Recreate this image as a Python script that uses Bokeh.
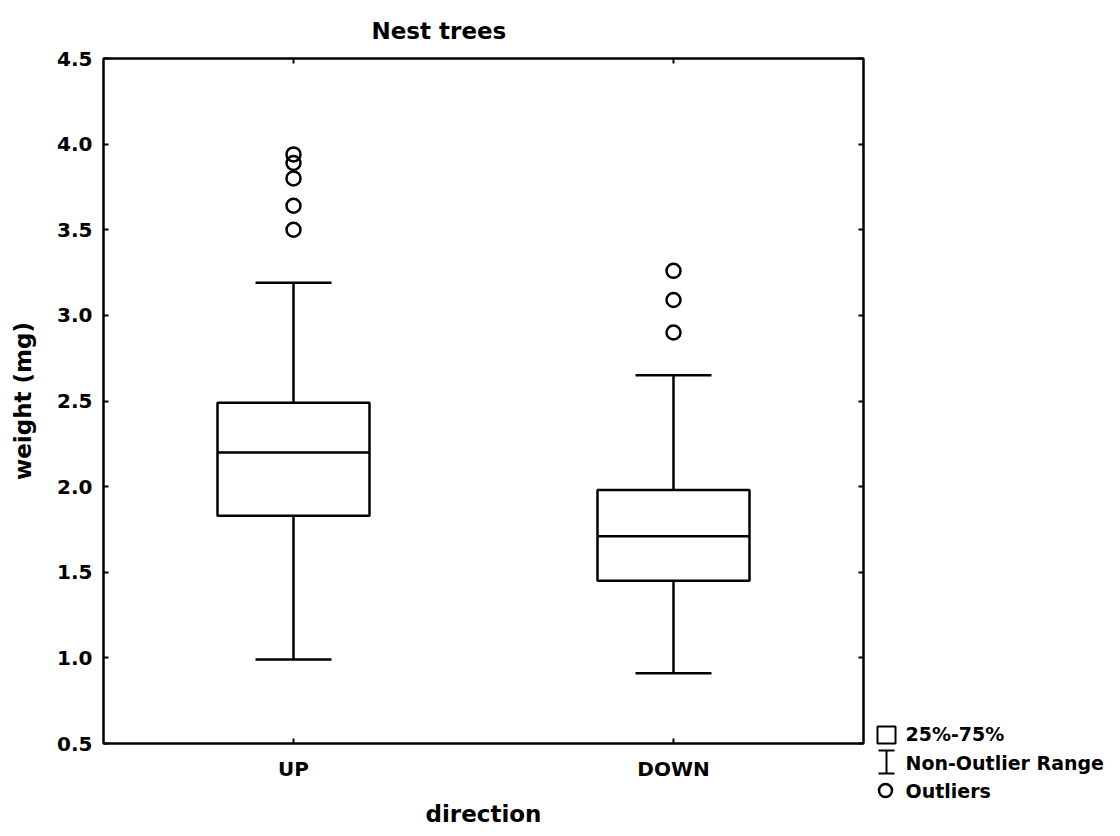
from bokeh.plotting import figure
from bokeh.models import Range1d, LinearAxis, FixedTicker, ColumnDataSource
from bokeh.layouts import row
from bokeh.embed import file_html
from bokeh.resources import INLINE
from bokeh.core.properties import value

# ---- data ----
categories = ["UP", "DOWN"]
cat_pos = [0.5, 1.5]
q1 = [1.83, 1.45]
median = [2.20, 1.71]
q3 = [2.49, 1.98]
whisker_low = [0.99, 0.91]
whisker_high = [3.19, 2.65]
outliers_up = [3.50, 3.64, 3.80, 3.89, 3.94]
outliers_down = [2.90, 3.09, 3.26]
y_ticks = [0.5, 1.0, 1.5, 2.0, 2.5, 3.0, 3.5, 4.0, 4.5]
legend_labels = ["25%-75%", "Non-Outlier Range", "Outliers"]

FONT = "DejaVu Sans"
BOX_HALF = 0.2
CAP_HALF = 0.1
LW = 2.5

p = figure(frame_width=760, frame_height=685,
           x_range=Range1d(0, 2), y_range=Range1d(0.5, 4.5),
           output_backend="svg", toolbar_location=None,
           min_border_left=103, min_border_top=58, min_border_right=4, min_border_bottom=93,
           title="Nest trees")
p.title.text_font = FONT
p.title.text_font_size = "23px"
p.title.text_font_style = "bold"
p.title.text_color = "black"
p.title.align = "left"
p.title.offset = 268
p.title.standoff = 30
p.xgrid.visible = False
p.ygrid.visible = False
p.outline_line_color = "black"
p.outline_line_width = 2
p.background_fill_color = "white"
p.border_fill_color = "white"

# axes
p.xaxis.ticker = FixedTicker(ticks=cat_pos)
p.xaxis.major_label_overrides = {cat_pos[i]: categories[i] for i in range(len(categories))}
p.yaxis.ticker = FixedTicker(ticks=y_ticks)
p.yaxis.major_label_overrides = {t: f"{t:.1f}" for t in y_ticks}
p.xaxis.axis_label = "direction"
p.yaxis.axis_label = "weight (mg)"

for ax in [p.xaxis[0], p.yaxis[0]]:
    ax.major_tick_in = 5
    ax.major_tick_out = 0
    ax.minor_tick_in = 0
    ax.minor_tick_out = 0
    ax.axis_line_width = 2
    ax.axis_line_color = "black"
    ax.major_tick_line_width = 2
    ax.major_label_text_font = FONT
    ax.major_label_text_font_style = "bold"
    ax.major_label_text_font_size = "20px"
    ax.major_label_text_color = "black"
    ax.axis_label_text_font = FONT
    ax.axis_label_text_font_style = "bold"
    ax.axis_label_text_font_size = "23px"
    ax.axis_label_text_color = "black"
p.xaxis.major_label_standoff = 13
p.xaxis.axis_label_standoff = 17
p.yaxis.major_label_standoff = 11
p.yaxis.axis_label_standoff = 18

right_ax = LinearAxis(ticker=FixedTicker(ticks=y_ticks))
right_ax.major_label_overrides = {t: "" for t in y_ticks}
top_ax = LinearAxis(ticker=FixedTicker(ticks=cat_pos))
top_ax.major_label_overrides = {t: "" for t in cat_pos}
for ax in [right_ax, top_ax]:
    ax.major_tick_in = 5
    ax.major_tick_out = 0
    ax.minor_tick_in = 0
    ax.minor_tick_out = 0
    ax.axis_line_width = 2
    ax.major_tick_line_width = 2
    ax.major_label_standoff = 0
p.add_layout(right_ax, "right")
p.add_layout(top_ax, "above")

# boxes
src = ColumnDataSource(dict(
    x=cat_pos,
    left=[c - BOX_HALF for c in cat_pos],
    right=[c + BOX_HALF for c in cat_pos],
    cl=[c - CAP_HALF for c in cat_pos],
    cr=[c + CAP_HALF for c in cat_pos],
    q1=q1, q3=q3, med=median, lo=whisker_low, hi=whisker_high,
))
p.segment(x0="x", y0="q3", x1="x", y1="hi", source=src, line_color="black", line_width=LW)
p.segment(x0="x", y0="q1", x1="x", y1="lo", source=src, line_color="black", line_width=LW)
p.segment(x0="cl", y0="hi", x1="cr", y1="hi", source=src, line_color="black", line_width=LW)
p.segment(x0="cl", y0="lo", x1="cr", y1="lo", source=src, line_color="black", line_width=LW)
p.quad(left="left", right="right", bottom="q1", top="q3", source=src,
       fill_color="white", line_color="black", line_width=LW)
p.segment(x0="left", y0="med", x1="right", y1="med", source=src, line_color="black", line_width=LW)

ox = [cat_pos[0]] * len(outliers_up) + [cat_pos[1]] * len(outliers_down)
oy = outliers_up + outliers_down
p.scatter(ox, oy, marker="circle", size=14, fill_color=None, line_color="black", line_width=2.5)

# legend panel (separate small figure to the right)
LEG_W = 253
lg = figure(width=LEG_W, height=836, x_range=Range1d(0, LEG_W), y_range=Range1d(836, 0),
            output_backend="svg", toolbar_location=None,
            x_axis_type=None, y_axis_type=None, min_border=0)
try:
    lg.frame_align = False
except Exception:
    pass
lg.outline_line_color = None
lg.xgrid.visible = False
lg.ygrid.visible = False
lg.background_fill_color = "white"
lg.border_fill_color = "white"
lg.quad(left=[10], right=[28], top=[726], bottom=[743], fill_color="white", line_color="black", line_width=2)
lg.segment(x0=[19, 11, 11], y0=[750, 750, 773], x1=[19, 27, 27], y1=[773, 750, 773],
           line_color="black", line_width=2)
lg.scatter([18], [790], marker="circle", size=13, fill_color=None, line_color="black", line_width=2.5)
lg.text(x=[38, 38, 38], y=[733, 762, 790], text=legend_labels,
        text_font=value(FONT), text_font_style="bold", text_font_size="19px",
        text_baseline="middle", text_color="black")

layout = row(p, lg, spacing=0)
open("out.html", "w").write(file_html(layout, INLINE))
